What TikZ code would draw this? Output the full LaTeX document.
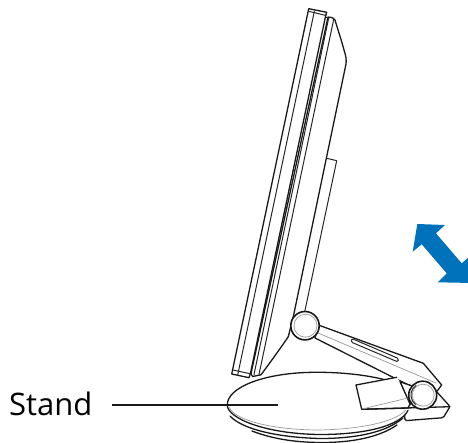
\documentclass[tikz,border=0pt]{standalone}
\usepackage{fontspec}
\setmainfont{Open Sans}
\definecolor{arrowblue}{RGB}{0,114,188}
\tikzset{
  ink/.style={draw=black!90,line width=1.3pt,line join=round,line cap=round},
  thin ink/.style={draw=black!85,line width=1pt,line join=round,line cap=round},
  pale/.style={draw=black!40,line width=0.7pt,line cap=round},
}
\begin{document}
\begin{tikzpicture}[x=1pt,y=-1pt]
\useasboundingbox (0,0) rectangle (468,443);
\clip (0,0) rectangle (468,443);
% foot
\draw[ink,fill=white,rounded corners=1.5pt] (436.7,391.7) -- (450,406.5) -- (443.3,417.7) -- (405,420.7) -- (404,405) -- cycle;
% base plate layers
\draw[ink] (230,416) .. controls (243,430) and (280,437.5) .. (320,438.5) .. controls (360,438.5) and (388,431) .. (403,418);
\draw[ink] (252,431) .. controls (275,440) and (300,442.5) .. (322,442.5) .. controls (350,442.5) and (378,438) .. (397,425);
\fill[white] (227.3,405) .. controls (227,418) and (265,434) .. (320,434.5) .. controls (365,434.5) and (400,426) .. (408,410.5) -- (380,378) .. controls (362,374) and (335,372) .. (313,372.3) .. controls (262,373) and (227,388) .. (227.3,405);
\draw[ink] (227.3,405) .. controls (227,418) and (265,434) .. (320,434.5) .. controls (365,434.5) and (400,426) .. (408,410.5);
\draw[ink] (384,379.5) .. controls (362,374) and (335,372) .. (313,372.3) .. controls (262,373) and (227,388) .. (227.3,405);
\draw[pale] (229,407) .. controls (235,420) and (270,429.5) .. (317,430) .. controls (360,429.5) and (395,422) .. (406,410);
% monitor back and neck
\draw[ink,fill=white] (331.7,17.5) -- (335,20) .. controls (337,27) and (342,42) .. (344,50) .. controls (346,56) and (346.5,60) .. (346,64) -- (293.3,316.7) -- (288.3,336.7) .. controls (282,346) and (272,360) .. (261,374.8) -- (252.5,376.5) -- (251,373.5) -- (328,17) -- cycle;
% stand-off box
\draw[thin ink] (326.7,158.3) -- (336.7,160.7) -- (304,315);
\draw[thin ink] (329,18) -- (325,17);
% panel
\draw[ink,fill=white] (308.7,8.7) -- (326.7,12.3) -- (325.7,15.5) -- (250.5,373) -- (249,377.7) -- (231.7,374) -- cycle;
\draw[thin ink] (309.5,11.5) -- (326,15.5);
\draw[thin ink] (314.3,11.5) -- (237.7,375);
\draw[thin ink] (233,370) -- (250,373.7);
% centre lines
\draw[thin ink] (328.7,18) -- (254,374.5);
\draw[thin ink] (334,18) -- (259,374.5);
% arm
\draw[ink,fill=white] (318.3,325) -- (423.3,363.3) -- (441.7,385) -- (436.7,391.7) -- (408.3,385) -- (315,338) -- cycle;
\draw[pale] (318,333) -- (436,383);
\draw[thin ink,rounded corners=1.5pt,fill=white] (351.7,338.5) -- (398.5,358.5) -- (398,362) -- (351,342) -- cycle;
% wedge
\draw[ink,fill=white] (400,381.7) -- (410,405) -- (412,386) -- cycle;
% hinge flap
\draw[ink,fill=white] (396.7,377.3) -- (356,385) -- (361.7,409.3) -- (408,408) -- (410,404) -- (400,381.7);
\draw[ink] (361.7,409.3) -- (450,406.7);
\draw[pale] (362,409) -- (408,398);
% joints
\draw[ink,line width=1.6pt,fill=white] (305,325.7) circle (14.2);
\draw[pale] (305.5,325.7) circle (11.5);
\draw[ink,line width=1.6pt,fill=white] (422.7,395.2) circle (14);
\draw[pale] (423.2,395.2) circle (11);
\draw[thin ink] (416,385.5) arc[start angle=235,end angle=125,radius=11.8];
% double arrow
\fill[arrowblue] (417.3,224) -- (445,225) -- (436,233.3) -- (461.7,263.3) -- (470,256) -- (472,283) -- (437.7,282.3) -- (446.7,273.3) -- (421.7,244.3) -- (412.7,251.7) -- cycle;
% label
\node[anchor=base west,inner sep=0pt,font=\fontsize{31}{34}\selectfont] (stand) at (9,415) {Stand};
\coordinate (standend) at (278,405);
\draw[draw=black!90,line width=1.1pt] (112,405) -- (standend);
\end{tikzpicture}
\end{document}
